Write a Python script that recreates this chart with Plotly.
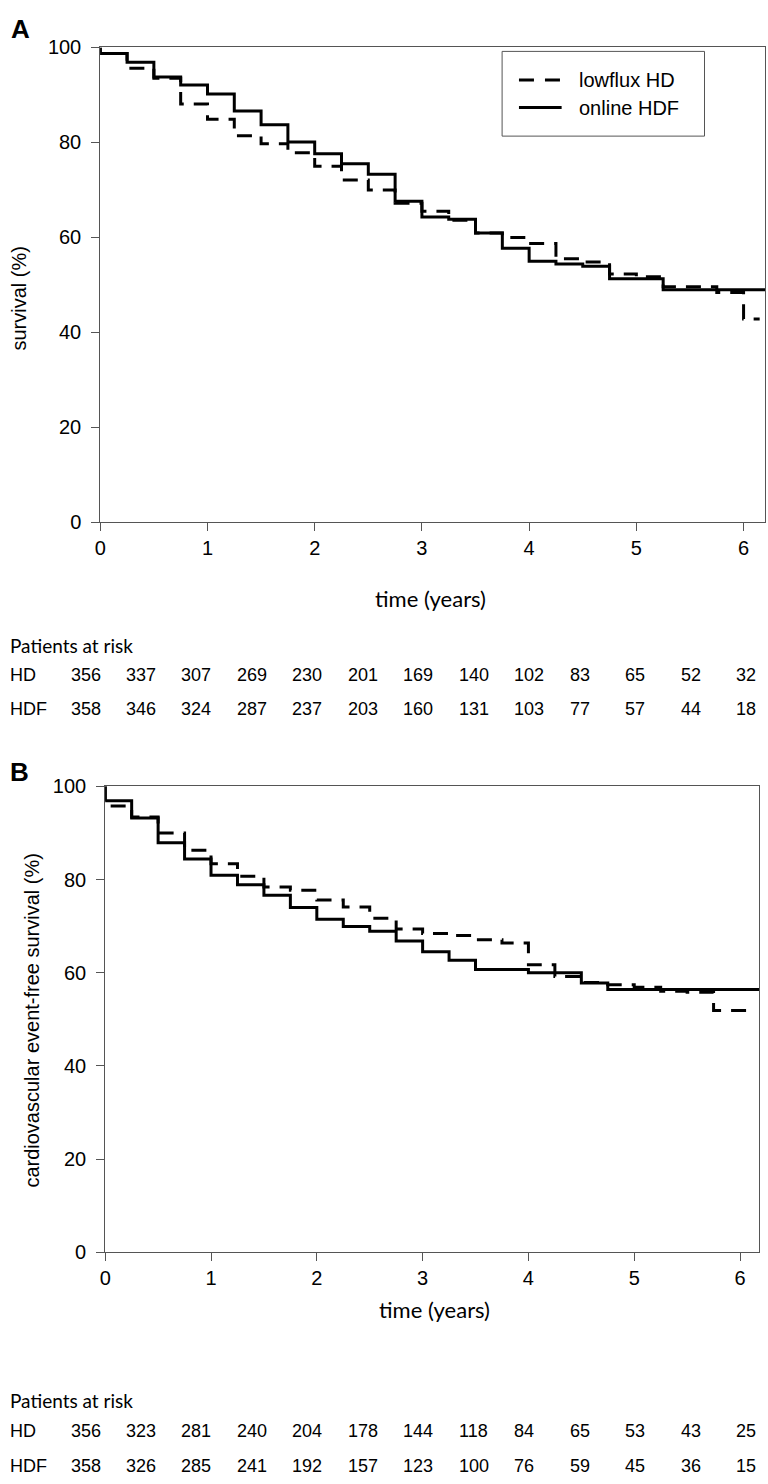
import plotly.graph_objects as go

# ---------------- data ----------------
step_times = [0, 0, 0.25, 0.5, 0.75, 1.0, 1.25, 1.5, 1.75, 2.0, 2.25, 2.5, 2.75,
              3.0, 3.25, 3.5, 3.75, 4.0, 4.25, 4.5, 4.75, 5.0, 5.25, 5.5, 5.75, 6.0]

# Panel A: overall survival (%)
a_hd = [100, 98.7, 95.6, 93.5, 88.1, 84.9, 81.4, 79.7, 77.8, 75.0, 72.1, 70.0, 67.2,
        65.5, 63.6, 60.9, 60.0, 58.7, 55.5, 54.8, 52.3, 51.7, 49.6, 49.6, 48.4, 42.8]
a_hd_end = 6.15
a_hdf = [100, 98.7, 96.9, 93.8, 92.1, 90.2, 86.6, 83.7, 80.1, 77.6, 75.5, 73.3, 67.6,
         64.3, 63.8, 60.9, 57.7, 55.0, 54.4, 53.9, 51.3, 51.3, 49.0, 49.0, 49.0, 49.0]
a_hdf_end = 6.2

# Panel B: cardiovascular event-free survival (%)
b_hd = [100, 95.8, 93.4, 90.0, 86.3, 83.4, 80.7, 78.4, 77.7, 75.6, 74.1, 71.7, 69.4,
        68.4, 68.0, 67.1, 66.4, 61.7, 59.2, 57.9, 57.4, 56.9, 56.0, 55.8, 51.9, 51.9]
b_hd_end = 6.14
b_hdf = [100, 96.9, 93.2, 87.9, 84.4, 80.9, 78.9, 76.6, 74.0, 71.5, 69.9, 68.9, 66.8,
         64.5, 62.7, 60.7, 60.7, 60.0, 60.0, 57.8, 56.4, 56.4, 56.4, 56.4, 56.4, 56.4]
b_hdf_end = 6.18

x_ticks = [0, 1, 2, 3, 4, 5, 6]
y_ticks = [0, 20, 40, 60, 80, 100]

# Patients at risk
a_risk_hd = [356, 337, 307, 269, 230, 201, 169, 140, 102, 83, 65, 52, 32]
a_risk_hdf = [358, 346, 324, 287, 237, 203, 160, 131, 103, 77, 57, 44, 18]
b_risk_hd = [356, 323, 281, 240, 204, 178, 144, 118, 84, 65, 53, 43, 25]
b_risk_hdf = [358, 326, 285, 241, 192, 157, 123, 100, 76, 59, 45, 36, 15]

series_names = ["lowflux HD", "online HDF"]

# ---------------- layout helpers ----------------
W, H = 768, 1484
def px(x):
    return x / W
def py(y):
    return 1 - y / H

AX = "#555555"
tickfont = dict(family="Arial, Liberation Sans", size=20, color="black")
DASH = "15px,10px"
LEG_DASH = "15px,11px"

fig = go.Figure()

def add_curve(t, y, end, name, dash, xa, ya):
    fig.add_trace(go.Scatter(
        x=list(t) + [end], y=list(y) + [y[-1]],
        mode="lines", line=dict(color="black", width=3, dash=dash, shape="hv"),
        name=name, showlegend=False, xaxis=xa, yaxis=ya, hoverinfo="skip"))

add_curve(step_times, a_hd, a_hd_end, series_names[0], DASH, "x", "y")
add_curve(step_times, a_hdf, a_hdf_end, series_names[1], "solid", "x", "y")
add_curve(step_times, b_hd, b_hd_end, series_names[0], DASH, "x2", "y2")
add_curve(step_times, b_hdf, b_hdf_end, series_names[1], "solid", "x2", "y2")

def xax(domain, rng, anchor):
    return dict(domain=domain, range=rng, anchor=anchor, tickvals=x_ticks,
                ticks="outside", ticklen=8, tickcolor=AX, tickwidth=1,
                showline=True, linecolor=AX, linewidth=1, mirror=True,
                showgrid=False, zeroline=False, tickfont=tickfont, fixedrange=True)

def yax(domain, anchor):
    return dict(domain=domain, range=[0, 100], anchor=anchor, tickvals=y_ticks,
                ticks="outside", ticklen=8, tickcolor=AX, tickwidth=1,
                showline=True, linecolor=AX, linewidth=1, mirror=True,
                showgrid=False, zeroline=False, tickfont=tickfont, fixedrange=True,
                ticklabelstandoff=6)

# legend (box, line samples and labels) for panel A
legend_shapes = [
    dict(type="rect", xref="paper", yref="paper",
         x0=px(500), x1=px(704), y0=py(127), y1=py(41),
         line=dict(color=AX, width=1), fillcolor="white", layer="above"),
    dict(type="line", xref="paper", yref="paper",
         x0=px(517), x1=px(560), y0=py(70), y1=py(70),
         line=dict(color="black", width=3, dash=LEG_DASH), layer="above"),
    dict(type="line", xref="paper", yref="paper",
         x0=px(517), x1=px(560), y0=py(98), y1=py(98),
         line=dict(color="black", width=3), layer="above"),
]

fig.update_layout(
    width=W, height=H, autosize=False,
    margin=dict(l=0, r=0, t=0, b=0),
    paper_bgcolor="white", plot_bgcolor="white",
    xaxis=xax([px(95), px(765)], [0, 6.2], "y"),
    yaxis=yax([py(519), py(37)], "x"),
    xaxis2=xax([px(100), px(759)], [0, 6.18], "y2"),
    yaxis2=yax([py(1260), py(787)], "x2"),
    showlegend=False,
    shapes=legend_shapes,
)

ann = []
def text(x, y, s, size, family, xanchor="center", angle=0, bold=False):
    ann.append(dict(x=px(x), y=py(y), xref="paper", yref="paper", text=("<b>%s</b>" % s) if bold else s,
                    showarrow=False, xanchor=xanchor, yanchor="middle", textangle=angle,
                    font=dict(family=family, size=size, color="black")))

ARIAL = "Arial, Liberation Sans"
CAL = "Lato, Open Sans"
NARROW = "Liberation Sans Narrow, Arial Narrow, Liberation Sans"

# legend labels
text(575, 70, series_names[0], 20, ARIAL, xanchor="left")
text(575, 98, series_names[1], 20, ARIAL, xanchor="left")

# panel letters
text(15, 18, "A", 26, ARIAL, bold=True)
text(14, 772, "B", 26, ARIAL, bold=True)

# y titles
text(13, 292, "survival (%)", 20, ARIAL, angle=-90)
text(26, 1024, "cardiovascular event-free survival (%)", 20, ARIAL, angle=-90)

# x titles
text(428, 596, "time (years)", 22, CAL)
text(432, 1318, "time (years)", 22, CAL)

# risk tables
col0, colstep = 63, 55.92
def risk_table(ytitle, yhd, yhdf, hd, hdf):
    text(2, ytitle, "Patients at risk", 19, CAL, xanchor="left")
    text(2, yhd, "HD", 18, NARROW, xanchor="left")
    text(2, yhdf, "HDF", 18, NARROW, xanchor="left")
    for i, (v1, v2) in enumerate(zip(hd, hdf)):
        text(col0 + i * colstep, yhd, str(v1), 18, NARROW, xanchor="left")
        text(col0 + i * colstep, yhdf, str(v2), 18, NARROW, xanchor="left")

risk_table(644, 674, 709, a_risk_hd, a_risk_hdf)
risk_table(1410, 1441, 1477, b_risk_hd, b_risk_hdf)

fig.update_layout(annotations=ann)
fig.write_html("out.html", config={"displayModeBar": False},
               post_script="document.body.style.margin='0';document.body.style.overflow='hidden';")
